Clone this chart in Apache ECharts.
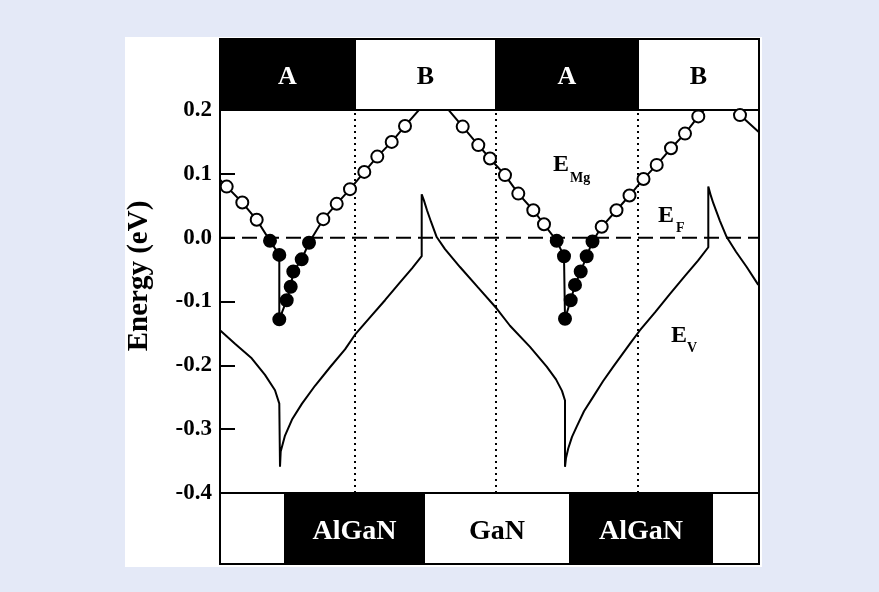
<!DOCTYPE html>
<html>
<head>
<meta charset="utf-8">
<script src="https://cdn.jsdelivr.net/npm/echarts@6/dist/echarts.min.js"></script>
<style>
html,body{margin:0;padding:0;background:#e4e9f7;}
#c{width:879px;height:592px;}
</style>
</head>
<body>
<div id="c"></div>
<script>
// ---- data (position in arbitrary units along growth direction, energy in eV) ----
const eF = 0.0;
const yTicks = [-0.4, -0.3, -0.2, -0.1, 0.0, 0.1, 0.2];

// valence band edge E_V
const evPos = [0, 15, 31.7, 45, 55, 59.3, 60,
  60.7, 65, 72, 82, 95, 110, 125, 135, 150, 165, 180, 192, 201.7,
  201.7, 204, 207, 211, 216.7, 225, 240, 258, 276.7, 290, 310, 326.7, 336, 342, 345,
  345, 346, 348.3, 352, 356.7, 364, 373.3, 383, 393.3, 410, 420, 435, 450, 465, 478, 488.3,
  488.3, 491, 493.3, 500, 506.7, 516, 526.7, 538.3];
const evVal = [-0.145, -0.166, -0.189, -0.215, -0.239, -0.260, -0.359,
  -0.335, -0.310, -0.285, -0.260, -0.232, -0.203, -0.175, -0.152, -0.125, -0.098, -0.070, -0.048, -0.029,
  0.068, 0.058, 0.043, 0.025, 0.001, -0.018, -0.046, -0.078, -0.111, -0.138, -0.171, -0.202, -0.222, -0.240, -0.255,
  -0.359, -0.345, -0.330, -0.312, -0.296, -0.272, -0.249, -0.225, -0.202, -0.166, -0.145, -0.117, -0.088, -0.060, -0.036, -0.015,
  0.080, 0.065, 0.054, 0.026, 0.001, -0.022, -0.046, -0.074];

// Mg acceptor level E_Mg (sampled = 1 : calculated point shown with a marker)
const eMgPos = [0, 6.7, 22.3, 36.7, 50, 59.3, 59.3, 66.7, 70.7, 73.3, 81.7, 89,
  103.3, 116.7, 130, 144.3, 157.3, 171.7, 185, 214,
  242.7, 258.3, 270, 285, 298.3, 313.3, 324, 336.7, 344, 345, 350.7, 355, 360.7, 366.7, 372.5,
  381.7, 396.5, 409.5, 423.5, 436.7, 451, 465, 478.3, 499.5, 520, 539];
const eMgVal = [0.091, 0.080, 0.055, 0.028, -0.005, -0.027, -0.128, -0.098, -0.077, -0.053, -0.034, -0.008,
  0.029, 0.053, 0.076, 0.103, 0.127, 0.150, 0.175, 0.227,
  0.174, 0.145, 0.124, 0.098, 0.069, 0.043, 0.021, -0.005, -0.029, -0.127, -0.098, -0.074, -0.053, -0.029, -0.006,
  0.017, 0.043, 0.066, 0.092, 0.114, 0.140, 0.163, 0.190, 0.228, 0.192, 0.165];
const eMgSampled = [0, 1, 1, 1, 1, 1, 1, 1, 1, 1, 1, 1,
  1, 1, 1, 1, 1, 1, 1, 0,
  1, 1, 1, 1, 1, 1, 1, 1, 1, 1, 1, 1, 1, 1, 1,
  1, 1, 1, 1, 1, 1, 1, 1, 0, 1, 0];

// layer structure
const interfaces = [135, 276, 418];
const topEdges = [0, 135, 276, 418, 539];
const topNames = ['A', 'B', 'A', 'B'];
const bottomEdges = [0, 65, 204, 350, 492, 539];
const bottomNames = ['', 'AlGaN', 'GaN', 'AlGaN', ''];

// ---- chart ----
const XMAX = 539;
const serif = '"Liberation Serif", "Times New Roman", serif';
const chart = echarts.init(document.getElementById('c'), null, {renderer: 'canvas'});

function layerData(edges) {
  const d = [];
  for (let i = 0; i < edges.length - 1; i++) d.push([edges[i], edges[i + 1], i]);
  return d;
}
function layerRender(names, darkSet, fontSize) {
  return function (params, api) {
    const x0 = api.value(0), x1 = api.value(1), idx = api.value(2);
    const p0 = api.coord([x0, 1]);
    const p1 = api.coord([x1, 0]);
    const name = names[idx];
    const dark = darkSet.indexOf(name) >= 0;
    return {
      type: 'group',
      children: [
        {type: 'rect', shape: {x: p0[0], y: p0[1], width: p1[0] - p0[0], height: p1[1] - p0[1]},
         style: {fill: dark ? '#000' : '#fff', stroke: '#000', lineWidth: 2}},
        {type: 'text', style: {text: name, x: (p0[0] + p1[0]) / 2, y: (p0[1] + p1[1]) / 2 + 3,
          fill: dark ? '#fff' : '#000', font: 'bold ' + fontSize + 'px ' + serif,
          align: 'center', verticalAlign: 'middle'}}
      ]
    };
  };
}

const txt = (t, x, y, size) => ({type: 'text', x: x, y: y, z: 50,
  style: {text: t, font: 'bold ' + size + 'px ' + serif, fill: '#000', align: 'left', verticalAlign: 'middle'}});

const option = {
  backgroundColor: '#e4e9f7',
  animation: false,
  graphic: [
    {type: 'rect', z: -100, silent: true, shape: {x: 125, y: 37, width: 637, height: 530}, style: {fill: '#fff'}},
    {type: 'text', x: 140, y: 276, rotation: Math.PI / 2, z: 50,
     style: {text: 'Energy (eV)', font: 'bold 29px ' + serif, fill: '#000', align: 'center', verticalAlign: 'middle'}},
    txt('E', 553, 165, 24), txt('Mg', 570, 178, 14),
    txt('E', 658, 216, 24), txt('F', 676, 228, 14),
    txt('E', 671, 336, 24), txt('V', 687, 348, 14)
  ],
  grid: [
    {left: 220, top: 110, width: XMAX, height: 383, show: true, borderColor: '#000', borderWidth: 2, backgroundColor: 'transparent'},
    {left: 220, top: 39, width: XMAX, height: 71},
    {left: 220, top: 493, width: XMAX, height: 71}
  ],
  xAxis: [
    {gridIndex: 0, type: 'value', min: 0, max: XMAX, show: false},
    {gridIndex: 1, type: 'value', min: 0, max: XMAX, show: false},
    {gridIndex: 2, type: 'value', min: 0, max: XMAX, show: false}
  ],
  yAxis: [
    {gridIndex: 0, type: 'value', min: yTicks[0], max: yTicks[yTicks.length - 1], interval: 0.1,
     axisLine: {show: true, lineStyle: {color: '#000', width: 2}},
     axisTick: {show: true, inside: true, length: 15, lineStyle: {color: '#000', width: 2}},
     splitLine: {show: false},
     axisLabel: {color: '#000', fontFamily: serif, fontWeight: 'bold', fontSize: 23, margin: 8,
       formatter: v => v.toFixed(1)}},
    {gridIndex: 1, type: 'value', min: 0, max: 1, show: false},
    {gridIndex: 2, type: 'value', min: 0, max: 1, show: false}
  ],
  series: [
    {type: 'custom', xAxisIndex: 1, yAxisIndex: 1, data: layerData(topEdges), encode: {x: [0, 1]},
     renderItem: layerRender(topNames, ['A'], 26), silent: true},
    {type: 'custom', xAxisIndex: 2, yAxisIndex: 2, data: layerData(bottomEdges), encode: {x: [0, 1]},
     renderItem: layerRender(bottomNames, ['AlGaN'], 28), silent: true},
    {name: 'interfaces', type: 'line', data: [], z: 2,
     markLine: {silent: true, symbol: 'none', label: {show: false},
       lineStyle: {color: '#000', width: 2, type: [2, 4]},
       data: interfaces.map(x => ({xAxis: x}))}},
    {name: 'EF', type: 'line', z: 3, symbol: 'none',
     data: [[0, eF], [XMAX, eF]],
     lineStyle: {color: '#000', width: 2, type: [15, 7]}},
    {name: 'EV', type: 'line', z: 4, symbol: 'none', clip: true,
     data: evPos.map((x, i) => [x, evVal[i]]),
     lineStyle: {color: '#000', width: 2}},
    {name: 'EMg', type: 'line', z: 5, clip: true, symbolSize: 12, showAllSymbol: true,
     data: eMgPos.map((x, i) => ({
       value: [x, eMgVal[i]],
       symbol: eMgSampled[i] ? 'circle' : 'none',
       itemStyle: {color: eMgVal[i] < eF ? '#000' : '#fff', borderColor: '#000', borderWidth: 2}
     })),
     lineStyle: {color: '#000', width: 2}}
  ]
};
chart.setOption(option);
</script>
</body>
</html>
